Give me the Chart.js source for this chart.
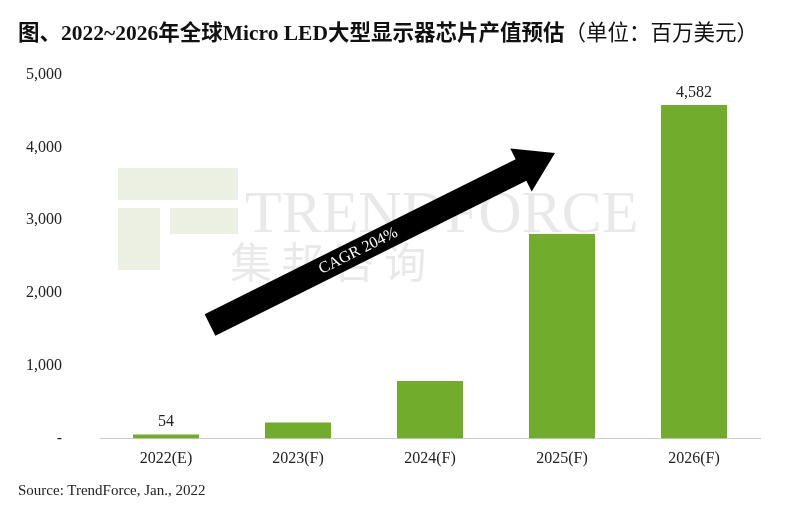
<!DOCTYPE html>
<html><head><meta charset="utf-8">
<script src="https://cdn.jsdelivr.net/npm/chart.js@4"></script>
<style>
body{margin:0;background:#fff;width:811px;height:522px;overflow:hidden;font-family:"Liberation Serif","Noto Sans CJK SC",serif;}
#t{position:absolute;left:18px;top:15px;font-size:21.5px;color:#111;white-space:nowrap;z-index:2;}
#t b{font-weight:bold;}
#s{position:absolute;left:18px;top:482px;font-size:15px;color:#222;z-index:2;}
#c{position:absolute;left:0px;top:27px;}
</style></head><body>
<canvas id="c" width="770" height="459" style="width:770px;height:459px"></canvas>
<div id="t"><b>图、2022~2026年全球Micro LED大型显示器芯片产值预估</b>（单位：百万美元）</div>
<div id="s">Source: TrendForce, Jan., 2022</div>
<script>
const categories=["2022(E)","2023(F)","2024(F)","2025(F)","2026(F)"];
const values=[54,220,790,2810,4582];
const shownLabels=[54,null,null,null,4582];
const yTicks=[0,1000,2000,3000,4000,5000];
const dy=23;
const deco={id:'deco',
 beforeDatasetsDraw(ch){const c=ch.ctx;c.save();
  c.font='60px "Liberation Serif",serif';c.fillStyle='rgba(200,200,200,0.4)';
  c.fillText('TRENDFORCE',245,182+dy);
  c.font='42px "Noto Sans CJK SC"';c.fillText('集 邦 咨 询',230,228+dy);
  c.fillStyle='rgba(215,225,200,0.5)';c.fillRect(118,118+dy,120,32);c.fillRect(118,158+dy,42,62);c.fillRect(170,158+dy,68,26);
  c.restore();},
 afterDatasetsDraw(ch){const c=ch.ctx;c.save();
  const x1=210,y1=275+dy,x2=555,y2=103+dy;const ang=Math.atan2(y2-y1,x2-x1);
  c.translate(x1,y1);c.rotate(ang);const L=Math.hypot(x2-x1,y2-y1);
  c.fillStyle='#000';c.beginPath();c.moveTo(0,-12);c.lineTo(L-38,-12);c.lineTo(L-38,-24);c.lineTo(L,0);c.lineTo(L-38,24);c.lineTo(L-38,12);c.lineTo(0,12);c.closePath();c.fill();
  c.fillStyle='#fff';c.font='16px "Liberation Serif",serif';c.textAlign='center';c.textBaseline='middle';c.fillText('CAGR 204%',L*0.43,0);
  c.restore();
  const m=ch.getDatasetMeta(0);c.save();c.fillStyle='#222';c.font='16px "Liberation Serif",serif';c.textAlign='center';
  m.data.forEach((b,i)=>{if(shownLabels[i]!=null)c.fillText(shownLabels[i].toLocaleString('en-US'),b.x,b.y-8);});c.restore();}
};
new Chart(document.getElementById('c'),{type:'bar',
 data:{labels:categories,datasets:[{data:values,backgroundColor:'#72ac2c',barPercentage:0.5,categoryPercentage:1}]},
 options:{responsive:false,maintainAspectRatio:false,animation:false,devicePixelRatio:1,
  layout:{padding:{top:0,right:10,left:0,bottom:0}},
  plugins:{legend:{display:false},tooltip:{enabled:false}},
  scales:{
   x:{grid:{display:false},border:{color:'#ccc'},afterFit(s){s.height=32;},ticks:{color:'#222',font:{family:'Liberation Serif',size:16}}},
   y:{min:0,max:5000,afterBuildTicks(s){s.ticks=yTicks.map(v=>({value:v}));},afterFit(s){s.width=100;},grid:{display:false,drawTicks:false},border:{display:false},
      ticks:{color:'#222',padding:38,font:{family:'Liberation Serif',size:16},callback:v=>v===0?'-':v.toLocaleString('en-US')}}}},
 plugins:[deco]});
</script></body></html>
